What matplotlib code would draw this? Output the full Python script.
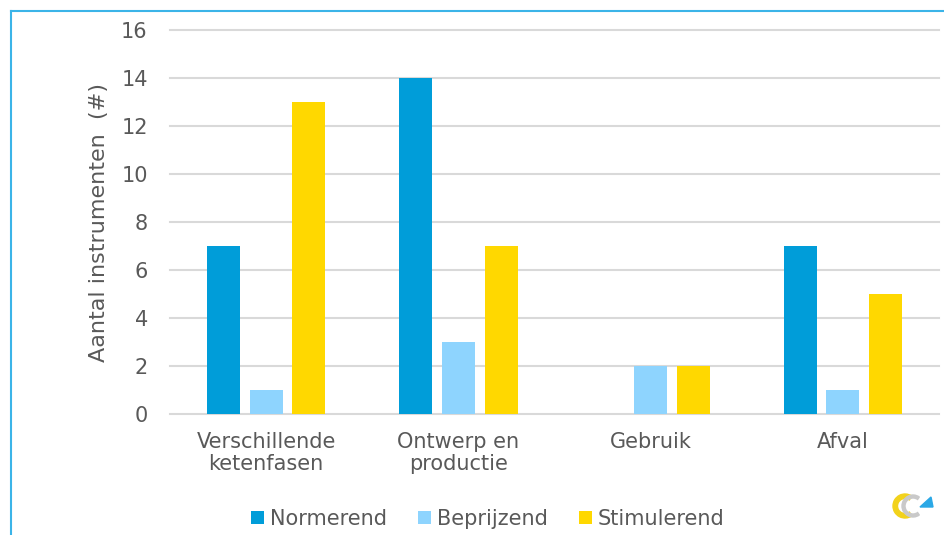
import numpy as np
import matplotlib.pyplot as plt
from matplotlib.lines import Line2D
from matplotlib.patches import Wedge, Polygon

categories = ["Verschillende\nketenfasen", "Ontwerp en\nproductie", "Gebruik", "Afval"]
normerend = [7, 14, 0, 7]
beprijzend = [1, 3, 2, 1]
stimulerend = [13, 7, 2, 5]
series_names = ["Normerend", "Beprijzend", "Stimulerend"]
colors = ["#009DD9", "#8ED4FE", "#FFD800"]

W, H = 944, 535
fig = plt.figure(figsize=(W / 100, H / 100), dpi=100)
ax = fig.add_axes([170 / W, 1 - 414 / H, (939 - 170) / W, (414 - 30) / H])

txt = "#595959"
x = np.arange(len(categories))
bw = 0.172
step = 0.222
for i, (vals, name, c) in enumerate(zip([normerend, beprijzend, stimulerend], series_names, colors)):
    ax.bar(x + (i - 1) * step, vals, width=bw, color=c, label=name, zorder=3)

ax.set_xlim(-0.5, len(categories) - 0.5)
ax.set_ylim(0, 16)
ax.set_yticks(range(0, 17, 2))
ax.yaxis.grid(True, color="#D9D9D9", linewidth=1.5, zorder=0)
for gl in ax.get_ygridlines():
    gl.set_clip_on(False)
for s in ax.spines.values():
    s.set_visible(False)
ax.tick_params(axis="both", length=0, labelsize=15, labelcolor=txt)
ax.tick_params(axis="y", pad=16)
ax.tick_params(axis="x", pad=13)
ax.set_xticks(x)
ax.set_xticklabels(categories, linespacing=1.1)
ax.set_ylabel("Aantal instrumenten  (#)", fontsize=16, color=txt)
ax.yaxis.set_label_coords(-(170 - 109) / (939 - 170), 0.5)

ax.legend(loc="center", bbox_to_anchor=(488 / W, 1 - 519 / H), bbox_transform=fig.transFigure,
          ncol=3, frameon=False, fontsize=15, labelcolor=txt, handlelength=0.6,
          handleheight=0.6, handletextpad=0.3, columnspacing=1.5)

# frame lines at left and top
fc = "#3BB4E8"
fig.add_artist(Line2D([11 / W, 11 / W], [0, 1 - 11 / H], color=fc, linewidth=1.5, transform=fig.transFigure))
fig.add_artist(Line2D([11 / W, 1], [1 - 11 / H, 1 - 11 / H], color=fc, linewidth=1.5, transform=fig.transFigure))

# small logo bottom right
lax = fig.add_axes([892 / W, 1 - 522 / H, 42 / W, 32 / H])
lax.set_xlim(0, 42)
lax.set_ylim(0, 32)
lax.axis("off")
lax.add_patch(Wedge((13, 16), 12, 55, 305, width=4.5, color="#F2D21B"))
lax.add_patch(Wedge((21, 16), 11, 55, 305, width=3, color="#C9C9C9"))
lax.add_patch(Polygon([[28, 15], [41, 15], [39, 25]], color="#2AA8E6"))

fig.savefig("out.png", dpi=100)
